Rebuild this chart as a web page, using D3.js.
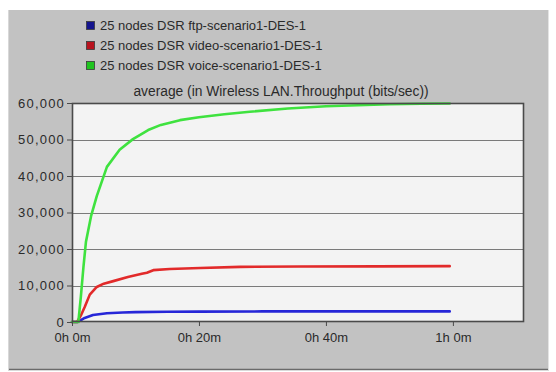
<!DOCTYPE html>
<html>
<head>
<meta charset="utf-8">
<script src="https://cdn.jsdelivr.net/npm/d3@7"></script>
<style>
  html, body { margin: 0; padding: 0; background: #ffffff; }
  svg { display: block; }
  text { font-family: "Liberation Sans", Arial, sans-serif; fill: #2a2a2a; }
</style>
</head>
<body>
<svg id="chart" width="556" height="372"></svg>
<script>
// Simulation time (minutes) and averaged WLAN throughput (bits/sec) per traffic type
const ftpTime   = [0, 0.8, 1.4, 2.0, 3.3, 5.5, 8, 10, 15, 20, 30, 40, 50, 59.5];
const ftpValues = [0, 0, 500, 1100, 1900, 2400, 2600, 2700, 2800, 2850, 2900, 2900, 2900, 2900];

const videoTime   = [0, 0.8, 1.4, 2.0, 2.8, 3.9, 5.0, 6.5, 8.8, 11, 11.8, 12.8, 15.4, 20.2, 26.5, 36, 48, 59.5];
const videoValues = [0, 0, 1800, 4100, 7500, 9600, 10500, 11200, 12300, 13200, 13500, 14200, 14500, 14800, 15100, 15200, 15250, 15300];

const voiceTime   = [0, 1.0, 1.4, 1.8, 2.2, 3.0, 3.9, 5.5, 7.5, 9.6, 12, 14, 17, 20, 24, 28, 34, 40, 45, 50, 55, 59.5];
const voiceValues = [0, 0, 7000, 15000, 22000, 29000, 34500, 42500, 47200, 50100, 52600, 54000, 55300, 56100, 56900, 57600, 58500, 59100, 59400, 59650, 59780, 59850];

const seriesNames  = ["25 nodes DSR ftp-scenario1-DES-1", "25 nodes DSR video-scenario1-DES-1", "25 nodes DSR voice-scenario1-DES-1"];
const seriesColors = ["#2626d8", "#e22a2a", "#3fe23f"];
const swatchColors = ["#14148e", "#b8121e", "#1fc41f"];

const yTicks = [0, 10000, 20000, 30000, 40000, 50000, 60000];
const xTicks = [0, 20, 40, 60];
const xTickLabels = ["0h 0m", "0h 20m", "0h 40m", "1h 0m"];
const chartTitle = "average (in Wireless LAN.Throughput (bits/sec))";

const svg = d3.select("#chart");

// Outer gray panel
svg.append("rect").attr("x", 8).attr("y", 10).attr("width", 540).attr("height", 359)
  .attr("fill", "#c2c2c2");
svg.append("line").attr("x1", 8).attr("x2", 549).attr("y1", 369.5).attr("y2", 369.5)
  .attr("stroke", "#6a6a6a").attr("stroke-width", 1.5);
svg.append("line").attr("x1", 548.5).attr("x2", 548.5).attr("y1", 10).attr("y2", 370)
  .attr("stroke", "#e4e4e4").attr("stroke-width", 1);
svg.append("line").attr("x1", 8.5).attr("x2", 8.5).attr("y1", 10).attr("y2", 370)
  .attr("stroke", "#d8d8d8").attr("stroke-width", 1);

// Plot area
const plotL = 72, plotR = 524, plotT = 103, plotB = 322;
const x = d3.scaleLinear().domain([0, 71.2]).range([plotL, plotR]);
const y = d3.scaleLinear().domain([0, 60000]).range([plotB, plotT]);

svg.append("rect").attr("x", plotL).attr("y", plotT).attr("width", plotR - plotL).attr("height", plotB - plotT)
  .attr("fill", "#f3f3f3");

// Horizontal grid lines
svg.append("g").selectAll("line").data(yTicks.slice(1, -1)).join("line")
  .attr("x1", plotL).attr("x2", plotR)
  .attr("y1", d => Math.round(y(d)) + 0.5).attr("y2", d => Math.round(y(d)) + 0.5)
  .attr("stroke", "#7a7a7a").attr("stroke-width", 1.2);

// Series lines
const line = d3.line().x(d => x(d[0])).y(d => y(d[1]));
const series = [
  d3.zip(ftpTime, ftpValues),
  d3.zip(videoTime, videoValues),
  d3.zip(voiceTime, voiceValues)
];
svg.append("g").selectAll("path").data(series).join("path")
  .attr("d", line)
  .attr("fill", "none")
  .attr("stroke", (d, i) => seriesColors[i])
  .attr("stroke-width", 2.6)
  .attr("stroke-linejoin", "round")
  .attr("stroke-linecap", "round");

// Frame
svg.append("rect").attr("x", plotL + 0.5).attr("y", plotT + 0.5)
  .attr("width", plotR - plotL - 1).attr("height", plotB - plotT - 1)
  .attr("fill", "none").attr("stroke", "#4a4a4a").attr("stroke-width", 1.6);

// Y axis
const yAxis = d3.axisLeft(y).tickValues(yTicks).tickSize(5).tickPadding(2)
  .tickFormat(d3.format(","));
const gy = svg.append("g").attr("transform", `translate(${plotL},0)`).call(yAxis);
gy.select(".domain").remove();
gy.selectAll(".tick line").attr("stroke", "#4a4a4a");
gy.selectAll(".tick text").style("font-size", "13px").style("font-family", "Liberation Sans, Arial, sans-serif")
  .style("letter-spacing", "1.2px")
  .attr("fill", "#2a2a2a");

// X axis
const xAxis = d3.axisBottom(x).tickValues(xTicks).tickSize(4).tickPadding(7)
  .tickFormat((d, i) => xTickLabels[i]);
const gx = svg.append("g").attr("transform", `translate(0,${plotB})`).call(xAxis);
gx.select(".domain").remove();
gx.selectAll(".tick line").attr("stroke", "#4a4a4a");
gx.selectAll(".tick text").style("font-size", "13px").style("font-family", "Liberation Sans, Arial, sans-serif")
  .attr("fill", "#2a2a2a");

// Title
svg.append("text").attr("x", 281).attr("y", 96).attr("text-anchor", "middle")
  .style("font-size", "13.8px").text(chartTitle);

// Legend
const legend = svg.append("g").selectAll("g").data(seriesNames).join("g")
  .attr("transform", (d, i) => `translate(86,${21 + i * 20})`);
legend.append("rect").attr("x", 0.5).attr("y", 0.5).attr("width", 8).attr("height", 8)
  .attr("fill", (d, i) => swatchColors[i]).attr("stroke", "#3a3a3a").attr("stroke-width", 0.8);
legend.append("text").attr("x", 14).attr("y", 9)
  .style("font-size", "13px").text(d => d);
</script>
</body>
</html>
